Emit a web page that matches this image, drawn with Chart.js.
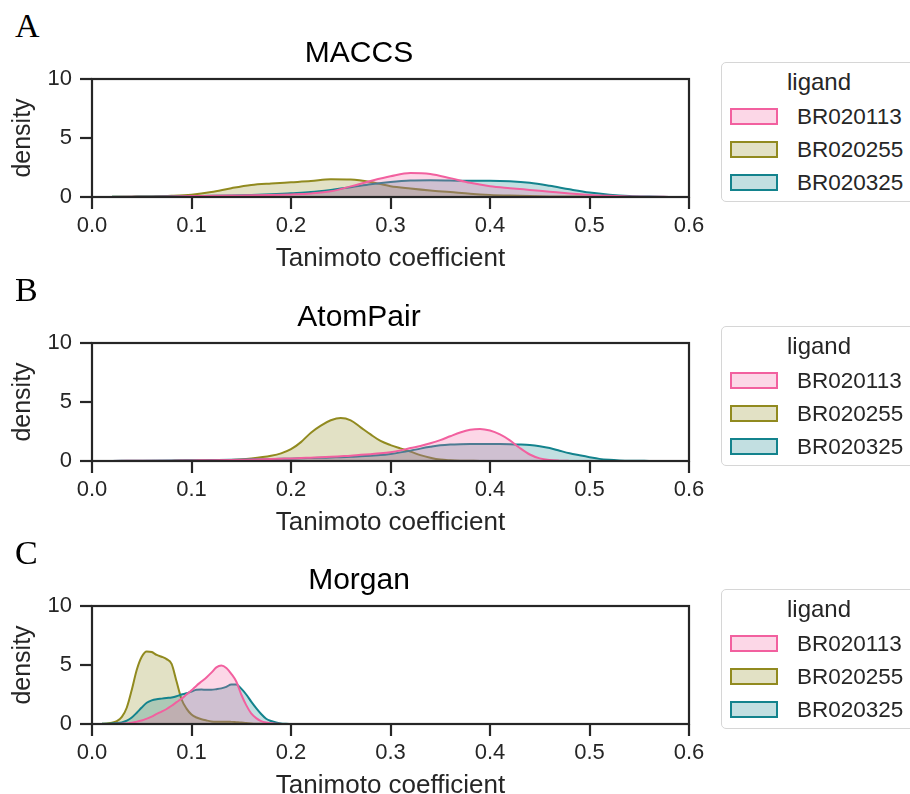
<!DOCTYPE html>
<html lang="en">
<head>
<meta charset="UTF-8">
<title>Tanimoto coefficient densities</title>
<script src="https://cdn.jsdelivr.net/npm/chart.js@4.4.0/dist/chart.umd.min.js"></script>
<style>
    body {
        margin: 0;
        width: 910px;
        height: 794px;
        overflow: hidden;
        position: relative;
        background: #fff;
        font-family: "Liberation Sans", Arial, sans-serif;
        color: #262626;
    }
    .panel {
        position: absolute;
        left: 0;
        width: 910px;
        height: 263px;
    }
    .letter {
        position: absolute;
        left: 15px;
        top: 9px;
        font-family: "Liberation Serif", "Times New Roman", serif;
        font-size: 34px;
        line-height: 1;
        color: #000;
    }
    .plot {
        position: absolute;
        left: 0;
        top: 30px;
    }
    .legend {
        position: absolute;
        left: 721px;
        top: 62px;
        width: 194px;
        height: 140px;
        box-sizing: border-box;
        border: 1.5px solid #d6d6d6;
        border-radius: 5px;
        background: #fff;
    }
    .legend .ttl {
        position: absolute;
        left: 0;
        width: 194px;
        top: 5px;
        text-align: center;
        font-size: 24px;
        line-height: 28px;
    }
    .legend .row {
        position: absolute;
        left: 8px;
        height: 28px;
    }
    .legend .sw {
        position: absolute;
        left: 0;
        top: 5px;
        width: 48px;
        height: 17px;
        box-sizing: border-box;
        border: 2px solid;
    }
    .legend .lab {
        position: absolute;
        left: 67px;
        top: 0;
        font-size: 22.5px;
        line-height: 28px;
        white-space: nowrap;
    }
</style>
</head>
<body>

<script>
    // ligands and colours
    const ligands = ['BR020113', 'BR020255', 'BR020325'];
    const lineColors = ['#f2609f', '#918a1f', '#13838d'];
    const fillColors = ['rgba(245,100,164,0.26)', 'rgba(143,138,31,0.26)', 'rgba(18,131,140,0.26)'];
    const panelTitles = ['MACCS', 'AtomPair', 'Morgan'];
    const panelLetters = ['A', 'B', 'C'];
    const xTicks = [0, 0.1, 0.2, 0.3, 0.4, 0.5, 0.6];
    const yTicks = [0, 5, 10];

    // MACCS
    const maccsX = [0.02, 0.04, 0.06, 0.08, 0.10, 0.12, 0.14, 0.16, 0.18, 0.20, 0.22, 0.24, 0.26, 0.28, 0.30,
                    0.32, 0.34, 0.36, 0.38, 0.40, 0.42, 0.44, 0.46, 0.48, 0.50, 0.52, 0.54, 0.56, 0.58, 0.60];
    const maccs113 = [0.01, 0.02, 0.03, 0.05, 0.08, 0.10, 0.12, 0.14, 0.17, 0.22, 0.30, 0.48, 0.90, 1.35, 1.75,
                      2.03, 1.95, 1.60, 1.20, 0.92, 0.75, 0.60, 0.45, 0.30, 0.18, 0.10, 0.05, 0.02, 0.01, 0];
    const maccs255 = [0.02, 0.03, 0.05, 0.10, 0.20, 0.42, 0.75, 1.02, 1.15, 1.25, 1.35, 1.50, 1.48, 1.28, 0.92,
                      0.72, 0.55, 0.42, 0.28, 0.18, 0.12, 0.08, 0.05, 0.04, 0.03, 0.02, 0.01, 0.01, 0, 0];
    const maccs325 = [0.02, 0.03, 0.04, 0.06, 0.08, 0.10, 0.13, 0.17, 0.23, 0.32, 0.42, 0.60, 0.82, 1.08, 1.28,
                      1.40, 1.42, 1.40, 1.37, 1.37, 1.33, 1.20, 0.95, 0.65, 0.38, 0.20, 0.09, 0.04, 0.01, 0];

    // AtomPair
    const atomX = [0.02, 0.05, 0.08, 0.10, 0.12, 0.14, 0.16, 0.18, 0.19, 0.20, 0.21, 0.22, 0.23, 0.24, 0.25,
                   0.26, 0.27, 0.28, 0.29, 0.30, 0.31, 0.32, 0.33, 0.34, 0.35, 0.36, 0.37, 0.38, 0.39, 0.40,
                   0.41, 0.42, 0.43, 0.44, 0.45, 0.46, 0.47, 0.48, 0.49, 0.50, 0.51, 0.52, 0.53, 0.54, 0.56, 0.60];
    const atom113 = [0.01, 0.02, 0.03, 0.05, 0.06, 0.08, 0.12, 0.18, 0.20, 0.22, 0.25, 0.28, 0.31, 0.35, 0.40,
                     0.45, 0.52, 0.58, 0.65, 0.75, 0.90, 1.10, 1.27, 1.50, 1.77, 2.10, 2.42, 2.65, 2.72, 2.58,
                     2.25, 1.75, 1.10, 0.55, 0.22, 0.08, 0.03, 0.01, 0, 0, 0, 0, 0, 0, 0, 0];
    const atom255 = [0, 0, 0.01, 0.02, 0.04, 0.08, 0.22, 0.45, 0.65, 1.00, 1.60, 2.40, 3.00, 3.45, 3.65,
                     3.45, 2.85, 2.25, 1.70, 1.35, 1.07, 0.80, 0.50, 0.28, 0.12, 0.06, 0.03, 0.02, 0.01, 0.01,
                     0, 0, 0, 0, 0, 0, 0, 0, 0, 0, 0, 0, 0, 0, 0, 0];
    const atom325 = [0.01, 0.02, 0.04, 0.06, 0.08, 0.10, 0.14, 0.17, 0.19, 0.20, 0.23, 0.25, 0.27, 0.30, 0.32,
                     0.35, 0.40, 0.45, 0.50, 0.60, 0.73, 0.88, 1.05, 1.20, 1.33, 1.40, 1.43, 1.44, 1.44, 1.44,
                     1.44, 1.43, 1.40, 1.35, 1.25, 1.10, 0.87, 0.65, 0.48, 0.32, 0.18, 0.10, 0.05, 0.02, 0.01, 0];

    // Morgan
    const morganX = [0.010, 0.015, 0.020, 0.025, 0.030, 0.035, 0.040, 0.045, 0.050, 0.055, 0.060, 0.065, 0.070,
                     0.075, 0.080, 0.085, 0.090, 0.095, 0.100, 0.105, 0.110, 0.115, 0.120, 0.125, 0.130, 0.135,
                     0.140, 0.145, 0.150, 0.155, 0.160, 0.165, 0.170, 0.175, 0.180, 0.185, 0.190, 0.195, 0.200];
    const morgan113 = [0, 0, 0.01, 0.02, 0.03, 0.05, 0.10, 0.20, 0.30, 0.45, 0.62, 0.85, 1.05,
                       1.27, 1.55, 1.85, 2.15, 2.50, 2.85, 3.25, 3.60, 3.95, 4.35, 4.80, 4.95, 4.75,
                       4.25, 3.60, 2.50, 1.60, 0.90, 0.50, 0.25, 0.12, 0.06, 0.02, 0.01, 0, 0];
    const morgan255 = [0.02, 0.05, 0.10, 0.25, 0.60, 1.40, 2.90, 4.60, 5.70, 6.15, 6.10, 5.85, 5.70,
                       5.50, 5.10, 3.60, 2.10, 1.30, 0.80, 0.55, 0.40, 0.30, 0.22, 0.20, 0.20, 0.20,
                       0.18, 0.15, 0.12, 0.08, 0.05, 0.03, 0.02, 0.01, 0, 0, 0, 0, 0];
    const morgan325 = [0.02, 0.03, 0.05, 0.08, 0.14, 0.28, 0.55, 0.95, 1.40, 1.80, 2.00, 2.10, 2.15,
                       2.20, 2.25, 2.35, 2.50, 2.60, 2.75, 2.90, 2.92, 2.90, 2.90, 2.95, 3.02, 3.15,
                       3.35, 3.35, 3.00, 2.50, 1.90, 1.35, 0.85, 0.45, 0.25, 0.12, 0.05, 0.02, 0];

    const panels = [
        { x: maccsX, series: [maccs113, maccs255, maccs325] },
        { x: atomX, series: [atom113, atom255, atom325] },
        { x: morganX, series: [morgan113, morgan255, morgan325] }
    ];

    const INK = '#262626';
    Chart.defaults.font.family = '"Liberation Sans", Arial, sans-serif';
    Chart.defaults.color = INK;

    // full box round the plot, drawn over the curves like matplotlib spines
    const frame = {
        id: 'frame',
        afterDatasetsDraw(chart) {
            const a = chart.chartArea;
            const ctx = chart.ctx;
            const l = Math.round(a.left), t = Math.round(a.top);
            const r = Math.round(a.right), b = Math.round(a.bottom);
            ctx.save();
            ctx.strokeStyle = INK;
            ctx.lineWidth = 2.2;
            ctx.strokeRect(l, t, r - l, b - t);
            ctx.restore();
        }
    };

    function axisGrid() {
        return { drawOnChartArea: false, drawTicks: true, tickLength: 12, tickWidth: 2.2, tickColor: INK, color: INK, lineWidth: 2 };
    }

    function buildLegend(parent) {
        const box = document.createElement('div');
        box.className = 'legend';
        box.innerHTML = '<div class="ttl">ligand</div>';
        ligands.forEach((name, i) => {
            const row = document.createElement('div');
            row.className = 'row';
            row.style.top = (40 + i * 33) + 'px';
            row.innerHTML = `<div class="sw" style="border-color:${lineColors[i]};background:${fillColors[i]}"></div>` +
                            `<div class="lab">${name}</div>`;
            box.appendChild(row);
        });
        parent.appendChild(box);
    }

    panels.forEach((p, k) => {
        const panel = document.createElement('div');
        panel.className = 'panel';
        panel.style.top = (k * 263.5) + 'px';
        panel.innerHTML = `<div class="letter">${panelLetters[k]}</div>`;
        const canvas = document.createElement('canvas');
        canvas.className = 'plot';
        canvas.width = 718;
        canvas.height = 245;
        panel.appendChild(canvas);
        buildLegend(panel);
        document.body.appendChild(panel);

        const order = [0, 2, 1]; // pink on top, then teal, olive at the back
        const datasets = p.series.map((ys, i) => ({
            label: ligands[i],
            data: p.x.map((x, j) => ({ x: x, y: ys[j] })),
            borderColor: lineColors[i],
            backgroundColor: fillColors[i],
            borderWidth: 2,
            fill: 'origin',
            pointRadius: 0,
            cubicInterpolationMode: 'monotone',
            order: order[i]
        }));

        new Chart(canvas.getContext('2d'), {
            type: 'line',
            data: { datasets: datasets },
            options: {
                responsive: false,
                animation: false,
                // equal side padding keeps the title centred on the canvas (x = 359)
                layout: { padding: { left: 29, right: 29, top: 0, bottom: 0 } },
                plugins: {
                    legend: { display: false },
                    tooltip: { enabled: false },
                    title: {
                        display: true,
                        text: panelTitles[k],
                        color: '#000',
                        font: { size: 30, weight: 'normal' },
                        padding: { top: 6, bottom: 7 }
                    }
                },
                scales: {
                    x: {
                        type: 'linear',
                        min: 0,
                        max: 0.6,
                        afterBuildTicks: s => { s.ticks = xTicks.map(v => ({ value: v })); },
                        ticks: {
                            callback: v => v.toFixed(1),
                            font: { size: 22 },
                            color: INK,
                            padding: 4,
                            maxRotation: 0
                        },
                        grid: axisGrid(),
                        border: { display: false },
                        title: {
                            display: true,
                            text: 'Tanimoto coefficient',
                            font: { size: 26 },
                            color: INK,
                            padding: { top: 0, bottom: 1 }
                        },
                        afterFit: s => { s.height = 78; }
                    },
                    y: {
                        min: 0,
                        max: 10,
                        afterBuildTicks: s => { s.ticks = yTicks.map(v => ({ value: v })); },
                        ticks: { font: { size: 22 }, color: INK, padding: 8 },
                        grid: axisGrid(),
                        border: { display: false },
                        title: {
                            display: true,
                            text: 'density',
                            font: { size: 25 },
                            color: INK,
                            padding: { top: -21, bottom: 0 }
                        },
                        afterFit: s => { s.width = 63; }
                    }
                }
            },
            plugins: [frame]
        });
    });
</script>
</body>
</html>
